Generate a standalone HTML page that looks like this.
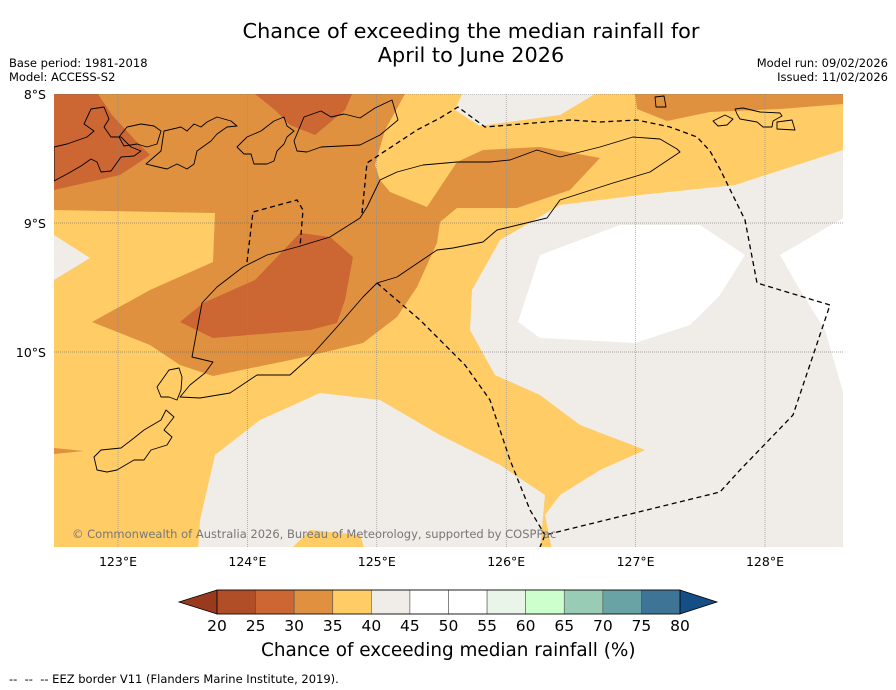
<!DOCTYPE html>
<html><head><meta charset="utf-8">
<style>
body{margin:0;background:#fff;font-family:"DejaVu Sans","Liberation Sans",sans-serif;}
#wrap{position:relative;width:896px;height:690px;overflow:hidden;background:#fff;}
.t{position:absolute;white-space:nowrap;color:#000;}
</style></head><body>
<div id="wrap">
<div class="t" style="left:0;width:942px;text-align:center;top:19px;font-size:20.8px;line-height:24px;">Chance of exceeding the median rainfall for<br>April to June 2026</div>
<div class="t" style="left:9px;top:56px;font-size:11.5px;line-height:14px;">Base period: 1981-2018<br>Model: ACCESS-S2</div>
<div class="t" style="right:8px;top:56px;font-size:11.5px;line-height:14px;text-align:right;">Model run: 09/02/2026<br>Issued: 11/02/2026</div>
<div class="t" style="left:9px;top:672px;font-size:11.5px;">--&nbsp; --&nbsp; -- EEZ border V11 (Flanders Marine Institute, 2019).</div>
<div class="t" style="left:261px;top:640px;font-size:18.4px;">Chance of exceeding median rainfall (%)</div>
<svg id="svg" width="896" height="690" style="position:absolute;left:0;top:0"></svg>
</div>
<script>
const lonTicks=[123,124,125,126,127,128];
const latTicks=[8,9,10];
const cbLevels=[20,25,30,35,40,45,50,55,60,65,70,75,80];
const cbColors=['#b04e27','#cc6633','#e0913f','#ffcc66','#f0ece8','#ffffff','#ffffff','#e8f5e8','#ccffcc','#99ccb4','#6aa3a6','#3e7597'];
const cbUnder='#993a1e', cbOver='#144e85';
const cbTicks=['20','25','30','35','40','45','50','55','60','65','70','75','80'];
function P(x,y){return [123+(x-118)/129.4, 8+(y-94)/129];}
const regions=[
 {name:'band-30-35',color:'#e0913f',pts:[P(54,94),P(405,94),P(385,130),P(375,165),P(380,180),P(390,192),P(427,207),P(457,162),P(483,150),P(540,147),P(600,158),P(570,190),P(517,208),P(457,208),P(440,222),P(437,243),P(417,287),P(397,317),P(363,343),P(300,358),P(213,376),P(180,365),P(150,345),P(92,322),P(150,290),P(213,262),P(215,213),P(54,210)]},
 {name:'band-30-35-ne',color:'#e0913f',pts:[P(635,94),P(843,94),P(843,104),P(780,109),P(710,112),P(667,121),P(637,109)]},
 {name:'band-30-35-sw',color:'#e0913f',pts:[P(54,448),P(84,451),P(54,454)]},
 {name:'band-25-30-nw',color:'#cc6633',pts:[P(54,94),P(98,94),P(112,115),P(135,140),P(150,155),P(120,175),P(85,183),P(54,190)]},
 {name:'band-25-30-n',color:'#cc6633',pts:[P(255,94),P(352,94),P(345,110),P(315,135),P(290,125),P(275,110)]},
 {name:'band-25-30-c',color:'#cc6633',pts:[P(180,322),P(203,303),P(255,280),P(300,233),P(330,237),P(353,257),P(345,300),P(337,323),P(310,330),P(213,338)]},
 {name:'band-40-45-w',color:'#f0ece8',pts:[P(54,235),P(90,258),P(54,280)]},
 {name:'band-40-45-top',color:'#f0ece8',pts:[P(462,94),P(595,94),P(560,115),P(480,126),P(455,110)]},
 {name:'band-40-45-e',color:'#f0ece8',pts:[P(843,150),P(735,185),P(640,195),P(560,205),P(500,240),P(472,290),P(470,330),P(495,375),P(540,395),P(580,425),P(645,450),P(600,470),P(560,495),P(545,515),P(552,550),P(843,550)]},
 {name:'band-40-45-s',color:'#f0ece8',pts:[P(198,550),P(200,520),P(215,455),P(260,420),P(320,393),P(380,400),P(440,435),P(500,465),P(545,495),P(540,550)]},
 {name:'band-35-40-s',color:'#ffcc66',pts:[P(290,550),P(310,530),P(360,535),P(365,550)]},
 {name:'band-45-50-e',color:'#ffffff',pts:[P(540,255),P(620,225),P(700,225),P(745,255),P(720,295),P(690,325),P(635,343),P(540,338),P(518,322)]},
 {name:'band-45-50-far-e',color:'#ffffff',pts:[P(843,218),P(780,255),P(800,290),P(825,330),P(843,392)]}
];
const coastTimor=[P(192,357),P(202,303),P(217,287),P(243,267),P(267,255),P(297,247),P(330,237),P(360,218),P(367,207),P(380,180),P(397,172),P(423,165),P(457,162),P(490,162),P(510,160),P(537,150),P(560,157),P(600,147),P(633,137),P(660,139),P(677,149),P(680,152),P(650,172),P(613,183),P(560,200),P(547,218),P(497,230),P(483,242),P(453,248),P(437,250),P(397,277),P(377,283),P(363,297),P(337,327),P(310,357),P(290,375),P(257,375),P(230,393),P(200,398),P(180,397),P(190,385),P(205,373),P(213,362),P(192,357)];
const islands=[
 [P(54,147),P(67,144),P(87,137),P(94,131),P(84,124),P(91,109),P(104,107),P(109,119),P(104,127),P(111,137),P(121,137),P(131,147),P(141,151),P(134,156),P(121,157),P(111,171),P(101,172),P(97,162),P(91,159),P(81,166),P(67,174),P(54,181)],
 [P(119,137),P(127,127),P(141,124),P(154,126),P(161,131),P(157,144),P(147,147),P(137,144),P(124,146)],
 [P(146,164),P(154,157),P(161,151),P(164,131),P(181,127),P(187,131),P(194,124),P(201,127),P(207,122),P(217,117),P(231,121),P(237,126),P(227,127),P(217,134),P(211,141),P(197,151),P(194,164),P(187,169),P(177,164),P(167,169),P(154,166)],
 [P(237,147),P(247,137),P(261,131),P(274,121),P(284,117),P(287,126),P(294,131),P(287,137),P(284,144),P(277,151),P(274,161),P(267,164),P(254,164),P(251,154),P(244,154)],
 [P(294,141),P(304,117),P(321,111),P(331,117),P(344,114),P(360,118),P(375,108),P(392,100),P(398,120),P(380,135),P(360,145),P(341,146),P(321,147),P(307,152),P(297,151)],
 [P(655,97),P(664,96),P(666,107),P(656,107)],
 [P(713,121),P(725,115),P(733,119),P(727,125),P(718,126)],
 [P(735,109),P(743,108),P(760,112),P(780,113),P(782,116),P(773,121),P(772,127),P(763,127),P(757,122),P(740,119),P(737,114)],
 [P(777,122),P(792,120),P(795,130),P(777,129)],
 [P(157,387),P(169,370),P(179,368),P(182,377),P(181,390),P(177,400),P(169,397),P(161,397)],
 [P(94,457),P(101,450),P(121,448),P(134,438),P(144,430),P(161,420),P(166,410),P(174,417),P(164,430),P(172,437),P(167,445),P(151,450),P(144,460),P(134,460),P(117,470),P(107,472),P(97,470)]
];
const eez=[P(362,213),P(367,163),P(417,130),P(440,118),P(458,107),P(485,127),P(570,120),P(600,122),P(637,120),P(670,127),P(697,137),P(710,151),P(720,169),P(745,220),P(757,283),P(830,305),P(793,415),P(740,470),P(720,492),P(545,535),P(540,547)];
const eez2=[P(377,283),P(420,320),P(465,365),P(490,400),P(510,460),P(530,510),P(545,535)];
const eez3=[P(247,262),P(253,212),P(297,200),P(303,210),P(300,247)];

const X0=54,X1=843,Y0=94,Y1=547;
const xS=lon=>118+(lon-123)*129.4;
const yS=lat=>94+(lat-8)*129;
const NS='http://www.w3.org/2000/svg';
const svg=document.getElementById('svg');
const FF='DejaVu Sans, Liberation Sans, sans-serif';
function mk(tag,attrs,parent){const e=document.createElementNS(NS,tag);for(const k in attrs)e.setAttribute(k,attrs[k]);(parent||svg).appendChild(e);return e;}
const ptStr=a=>a.map(p=>xS(p[0]).toFixed(1)+','+yS(p[1]).toFixed(1)).join(' ');
const defs=mk('defs',{});const cp=mk('clipPath',{id:'mc'},defs);mk('rect',{x:X0,y:Y0,width:X1-X0,height:Y1-Y0},cp);
const g=mk('g',{'clip-path':'url(#mc)'});


const bg=mk('rect',{x:X0,y:Y0,width:X1-X0,height:Y1-Y0,fill:'#ffcc66'},g);


regions.forEach(r=>{const p=mk('polygon',{points:ptStr(r.pts),fill:r.color},g);

});
lonTicks.forEach(l=>{const ln=mk('line',{x1:xS(l),x2:xS(l),y1:Y0,y2:Y1,stroke:'#888','stroke-width':0.6,'stroke-dasharray':'1,1'},g);

});
latTicks.forEach(l=>{const ln=mk('line',{x1:X0,x2:X1,y1:yS(l),y2:yS(l),stroke:'#555','stroke-width':0.6,'stroke-dasharray':'1,1'},g);

});
const tm=mk('polygon',{points:ptStr(coastTimor),fill:'none',stroke:'#000','stroke-width':0.9,'stroke-linejoin':'round'},g);


islands.forEach(is=>{const p=mk('polygon',{points:ptStr(is),fill:'none',stroke:'#000','stroke-width':0.9,'stroke-linejoin':'round'},g);

});
[eez,eez2,eez3].forEach(e=>{const p=mk('polyline',{points:ptStr(e),fill:'none',stroke:'#000','stroke-width':1.3,'stroke-dasharray':'5,3.5'},g);

});
const cr=mk('text',{x:72,y:538,'font-size':11.5,fill:'#777','font-family':FF},g);
cr.textContent='© Commonwealth of Australia 2026, Bureau of Meteorology, supported by COSPPac';


lonTicks.forEach(l=>{const t=mk('text',{x:xS(l),y:566,'font-size':12.5,'text-anchor':'middle','font-family':FF});t.textContent=l+'°E';

});
latTicks.forEach(l=>{const t=mk('text',{x:46,y:yS(l)+5,'font-size':12.5,'text-anchor':'end','font-family':FF});t.textContent=l+'°S';

});
const cbX0=217,cbX1=680,cbY=590,cbH=24;
const cbx=v=>cbX0+(v-cbLevels[0])/(cbLevels[cbLevels.length-1]-cbLevels[0])*(cbX1-cbX0);
const un=mk('polygon',{points:`${cbX0},${cbY} ${cbX0},${cbY+cbH} 179,${cbY+cbH/2}`,fill:cbUnder,stroke:'#000','stroke-width':0.8});


const ov=mk('polygon',{points:`${cbX1},${cbY} ${cbX1},${cbY+cbH} 717,${cbY+cbH/2}`,fill:cbOver,stroke:'#000','stroke-width':0.8});


cbColors.forEach((c,i)=>{const r=mk('rect',{x:cbx(cbLevels[i]),y:cbY,width:cbx(cbLevels[i+1])-cbx(cbLevels[i]),height:cbH,fill:c,stroke:'#555','stroke-width':0.6});

});
mk('rect',{x:cbX0,y:cbY,width:cbX1-cbX0,height:cbH,fill:'none',stroke:'#000','stroke-width':0.8});
cbTicks.forEach((s,i)=>{const t=mk('text',{x:cbx(cbLevels[i]),y:631,'font-size':15.5,'text-anchor':'middle','font-family':FF});t.textContent=s;

});
</script>
</body></html>
